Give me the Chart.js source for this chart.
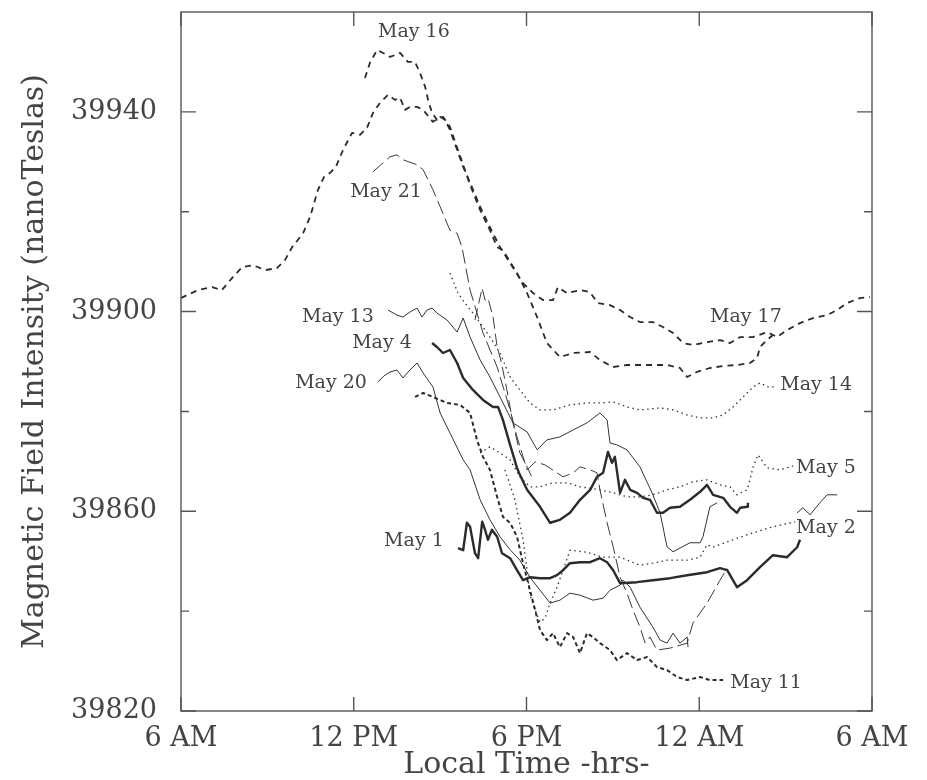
<!DOCTYPE html>
<html>
<head>
<meta charset="utf-8">
<script src="https://cdn.jsdelivr.net/npm/chart.js@4.4.1/dist/chart.umd.min.js"></script>
<style>
  html, body { margin: 0; padding: 0; background: #ffffff; }
  #wrap { width: 927px; height: 780px; position: relative; }
</style>
</head>
<body>
<div id="wrap"><canvas id="c" width="927" height="780"></canvas></div>
<script>
// ---- Axis ticks / labels ----
const xTickHours = [0, 6, 12, 18, 24];
const xTickLabels = ['6 AM', '12 PM', '6 PM', '12 AM', '6 AM'];
const yMajorTicks = [39820, 39860, 39900, 39940];
const yMinorTicks = [39840, 39880, 39920];

// ---- Series (x = hours after 6 AM, y = nanoTeslas) ----
const may17Hours = [0,0.21,0.59,1.08,1.42,1.77,2.12,2.50,2.92,3.33,3.61,3.86,4.24,4.48,4.76,4.97,5.18,5.38,5.63,5.94,6.22,6.46,6.67,6.91,7.19,7.43,7.61,7.78,7.95,8.20,8.41,8.75,9.00,9.17,9.34,9.59,9.80,10.04,10.39,10.73,11.08,11.43,11.88,12.23,12.57,12.92,13.09,13.41,13.86,14.20,14.48,14.90,15.25,15.60,15.94,16.39,16.74,17.09,17.44,17.78,18.27,18.72,19.07,19.42,19.87,20.36,20.70,21.05,21.50,21.95,22.44,22.79,23.13,23.58,23.93];
const may17Field = [39902.7,39903.3,39904.3,39904.9,39904.3,39906.7,39908.9,39909.3,39908.3,39908.7,39910.3,39912.9,39915.7,39918.9,39924.4,39927.0,39927.8,39929.0,39932.4,39935.8,39935.4,39936.8,39939.8,39941.8,39943.4,39942.4,39942.8,39940.4,39941.0,39941.0,39940.4,39938.0,39939.0,39938.4,39936.4,39932.4,39929.0,39925.8,39921.0,39916.9,39912.9,39909.7,39905.7,39903.7,39902.3,39902.3,39904.9,39903.7,39904.3,39903.9,39901.7,39901.3,39900.3,39898.9,39897.9,39897.9,39896.9,39895.7,39893.7,39893.3,39893.9,39894.3,39893.7,39894.9,39894.9,39895.9,39894.9,39896.3,39897.7,39898.7,39899.3,39900.3,39901.7,39902.7,39902.9];

const may16Hours = [6.39,6.56,6.81,7.02,7.26,7.61,7.88,8.13,8.30,8.48,8.58,8.72,8.89,9.10,9.34,9.59,9.80,10.04,10.39,10.73,10.98,11.18,11.67,12.02,12.37,12.71,13.16,13.62,14.21,14.55,15.01,15.49,16.19,16.88,17.33,17.58,17.92,18.37,18.83,19.31,19.76,20.01,20.11,20.35,20.56];
const may16Field = [39946.8,39949.8,39952.4,39951.8,39951.0,39951.8,39950.0,39950.0,39947.8,39945.0,39942.4,39939.8,39938.4,39939.0,39937.0,39932.8,39929.4,39925.4,39920.3,39916.3,39912.9,39912.3,39907.7,39903.7,39898.9,39893.7,39890.9,39891.7,39891.9,39890.3,39888.9,39889.3,39889.3,39889.3,39888.7,39886.9,39887.9,39888.7,39889.1,39889.3,39889.7,39890.7,39892.9,39894.3,39895.3];

const may21Hours = [6.67,7.02,7.26,7.50,7.71,8.20,8.41,8.75,9.00,9.34,9.59,9.76,10.04,10.49,10.98,11.43,11.67,12.02,12.30,12.64,13.27,13.62,13.86,14.21,14.45,14.55,14.80,15.01,15.25,15.49,15.70,15.94,16.12,16.29,16.53,16.99,17.58,17.78,18.27,18.72,18.97];
const may21Field = [39928.0,39929.8,39931.0,39931.4,39930.4,39929.4,39928.4,39924.4,39921.0,39916.3,39915.7,39912.9,39904.3,39895.7,39888.9,39880.3,39874.9,39868.3,39869.9,39869.3,39866.9,39867.7,39868.9,39868.3,39867.7,39864.3,39857.7,39852.9,39846.8,39843.6,39840.2,39836.8,39833.6,39834.8,39832.2,39832.6,39833.6,39837.6,39841.6,39846.2,39848.6];

const extraDashHours = [10.21,10.46,10.56,10.66,10.84,10.98,11.08,11.18,11.32,11.53,11.77,12.02,12.23];
const extraDashField = [39898.3,39904.7,39902.3,39902.7,39898.9,39892.9,39890.9,39888.3,39884.3,39877.7,39871.7,39868.9,39866.3];

const may13Hours = [7.19,7.50,7.71,7.95,8.20,8.37,8.54,8.72,8.89,9.24,9.59,9.80,10.04,10.39,10.73,11.08,11.53,12.02,12.37,12.71,13.16,13.62,14.10,14.55,14.80,14.90,15.14,15.49,15.94,16.36,16.64,16.88,17.09,17.68,18.03,18.13,18.37,18.62];
const may13Field = [39900.3,39899.3,39898.9,39899.9,39900.7,39898.9,39900.3,39900.7,39899.7,39898.3,39895.9,39898.7,39894.9,39890.3,39886.9,39882.9,39877.7,39875.9,39872.3,39874.3,39874.9,39876.3,39877.7,39879.7,39878.3,39873.7,39873.3,39872.3,39868.9,39863.7,39859.7,39852.9,39851.9,39853.7,39853.7,39854.9,39860.9,39861.7];

const may4Hours = [8.72,8.89,9.10,9.34,9.59,9.80,10.14,10.49,10.84,11.01,11.18,11.43,11.67,11.77,12.02,12.47,12.82,13.16,13.51,13.86,14.21,14.45,14.66,14.83,14.97,15.07,15.25,15.42,15.60,15.84,16.05,16.29,16.53,16.74,16.99,17.33,17.68,18.03,18.27,18.48,18.83,19.07,19.31,19.42,19.66,19.69];
const may4Field = [39893.7,39892.9,39891.7,39892.3,39889.7,39886.7,39884.3,39882.3,39880.9,39880.9,39878.3,39873.3,39868.7,39867.3,39864.3,39860.9,39857.7,39858.3,39859.7,39862.3,39864.3,39866.9,39867.7,39871.9,39869.7,39870.9,39863.7,39866.3,39864.3,39863.7,39862.7,39862.3,39859.7,39859.7,39860.7,39860.9,39862.3,39863.9,39865.3,39863.3,39862.7,39860.9,39859.7,39860.7,39860.9,39861.7];

const may20Hours = [6.84,7.05,7.26,7.50,7.71,7.95,8.20,8.41,8.75,9.00,9.34,9.80,10.04,10.39,10.73,11.08,11.43,11.77,12.12,12.47,12.82,13.16,13.51,13.86,14.31,14.66,14.90,15.25,15.35,15.60,15.94,16.39,16.64,16.88,17.09,17.33,17.58,17.61];
const may20Field = [39885.9,39887.1,39887.9,39888.3,39886.7,39888.3,39889.7,39887.7,39884.9,39879.7,39875.7,39870.3,39868.3,39862.3,39858.3,39854.9,39852.3,39850.2,39846.8,39844.2,39841.6,39842.2,39843.6,39843.2,39842.2,39842.6,39844.2,39845.2,39846.2,39844.8,39840.8,39836.8,39834.2,39833.6,39835.6,39833.6,39834.8,39832.8];

const may11Hours = [8.13,8.41,8.75,9.24,9.69,10.04,10.28,10.49,10.73,10.98,11.18,11.43,11.67,11.88,12.12,12.30,12.47,12.71,12.92,13.16,13.41,13.62,13.86,14.10,14.31,14.55,14.90,15.14,15.49,15.84,16.19,16.53,16.88,17.23,17.58,18.03,18.37,18.83];
const may11Field = [39882.9,39883.7,39882.9,39881.7,39881.3,39879.7,39874.3,39870.9,39868.3,39862.9,39858.9,39857.7,39854.9,39849.6,39844.2,39840.2,39836.2,39834.2,39835.6,39832.8,39835.6,39834.8,39831.6,39835.6,39834.8,39833.6,39832.2,39830.2,39831.6,39830.2,39830.8,39828.8,39828.2,39826.8,39826.2,39826.8,39826.2,39826.2];

const may1Hours = [9.62,9.80,9.93,10.04,10.21,10.32,10.46,10.56,10.66,10.80,10.98,11.15,11.43,11.67,11.88,12.12,12.47,12.82,13.06,13.27,13.51,13.86,14.21,14.55,14.80,15.01,15.25,15.84,16.39,16.99,17.58,18.27,18.72,18.97,19.31,19.66,20.11,20.56,21.05,21.40,21.50];
const may1Field = [39852.6,39852.2,39857.7,39856.9,39851.6,39850.6,39857.9,39856.3,39854.3,39856.3,39854.9,39851.6,39850.6,39848.2,39846.2,39846.8,39846.6,39846.6,39847.2,39848.2,39849.6,39849.8,39849.8,39850.6,39849.8,39848.2,39845.6,39845.8,39846.2,39846.6,39847.2,39847.8,39848.6,39848.2,39844.8,39846.2,39848.8,39851.2,39850.8,39852.8,39854.3];

const may14Hours = [9.34,9.62,9.86,10.14,10.49,10.73,11.08,11.43,11.77,12.12,12.47,12.92,13.51,14.10,14.55,15.01,15.49,15.94,16.64,17.09,17.58,18.03,18.48,18.83,19.17,19.42,19.66,19.87,20.11,20.39,20.63];
const may14Field = [39907.7,39903.7,39901.7,39899.7,39896.9,39894.9,39891.7,39886.9,39884.3,39881.7,39880.3,39880.3,39881.3,39881.7,39881.7,39881.9,39880.9,39880.3,39880.7,39880.3,39879.3,39878.7,39878.7,39879.3,39880.9,39882.3,39883.7,39884.9,39885.7,39884.9,39884.9];

const may5Hours = [10.39,10.73,11.08,11.43,11.77,12.12,12.47,12.92,13.41,13.86,14.55,15.01,15.49,15.94,16.39,16.88,17.33,17.78,18.27,18.72,19.07,19.31,19.52,19.66,19.76,19.87,20.04,20.36,20.81,21.26];
const may5Field = [39871.7,39872.9,39871.7,39870.3,39866.9,39864.9,39864.9,39865.7,39865.7,39864.9,39864.3,39863.7,39862.9,39862.9,39863.3,39864.3,39864.9,39865.9,39866.3,39865.3,39864.9,39863.3,39863.9,39864.3,39866.3,39868.9,39871.3,39868.7,39868.3,39869.1];

const may2Hours = [11.25,11.60,11.88,12.02,12.12,12.30,12.47,12.64,12.82,13.06,13.27,13.51,14.10,14.66,15.25,15.94,16.39,16.88,17.58,18.03,18.27,18.48,19.17,19.87,20.56,21.33];
const may2Field = [39868.3,39862.3,39854.3,39848.2,39843.2,39840.2,39837.8,39838.6,39841.6,39844.8,39848.2,39852.2,39851.8,39850.8,39850.8,39849.2,39849.6,39850.2,39850.2,39850.8,39853.3,39852.8,39854.3,39855.7,39856.9,39857.9];

const extraSolidHours = [21.40,21.60,21.85,22.19,22.44,22.79];
const extraSolidField = [39859.7,39860.7,39859.3,39861.7,39863.3,39863.3];

// ---- Curve labels (anchored in data coordinates) ----
const labelNames  = ['May 16','May 21','May 13','May 4','May 20','May 1','May 17','May 14','May 5','May 2','May 11'];
const labelHours  = [8.09, 7.12, 5.45, 6.98, 5.21, 8.09, 19.62, 22.06, 22.40, 22.40, 20.32];
const labelValues = [39956.0, 39924.0, 39898.9, 39893.7, 39885.7, 39854.1, 39898.9, 39885.3, 39868.7, 39856.7, 39825.6];

// ---- build datasets ----
function pts(xs, ys) { return xs.map((x, i) => ({ x: x, y: ys[i] })); }
const INK = '#2b2b2b';
function ds(name, xs, ys, width, dash, color) {
  return { label: name, data: pts(xs, ys), borderColor: color || INK, borderWidth: width,
           borderDash: dash, pointRadius: 0, fill: false, tension: 0, borderJoinStyle: 'round', borderCapStyle: 'butt' };
}
const datasets = [
  ds('May 17', may17Hours, may17Field, 1.8, [6, 5]),
  ds('May 16', may16Hours, may16Field, 1.8, [6, 5]),
  ds('May 21', may21Hours, may21Field, 1.0, [14, 5], '#3a3a3a'),
  ds('extra dashed', extraDashHours, extraDashField, 1.0, [12, 5], '#3a3a3a'),
  ds('May 13', may13Hours, may13Field, 1.0, [], '#333'),
  ds('May 4', may4Hours, may4Field, 2.4, []),
  ds('May 20', may20Hours, may20Field, 1.0, [], '#333'),
  ds('May 11', may11Hours, may11Field, 2.0, [4, 3]),
  ds('May 1', may1Hours, may1Field, 2.4, []),
  ds('May 14', may14Hours, may14Field, 1.3, [1.5, 3.5], '#333'),
  ds('May 5', may5Hours, may5Field, 1.3, [1.5, 3.5], '#333'),
  ds('May 2', may2Hours, may2Field, 1.3, [1.5, 3.5], '#333'),
  ds('extra solid', extraSolidHours, extraSolidField, 1.0, [], '#333')
];

const FONT = 'DejaVu Serif';
const TEXT = '#444';

const framePlugin = {
  id: 'frame',
  afterDatasetsDraw(chart) {
    const { ctx, chartArea: a, scales: { x, y } } = chart;
    ctx.save();
    ctx.strokeStyle = '#555';
    ctx.lineWidth = 1.4;
    ctx.setLineDash([]);
    ctx.strokeRect(a.left, a.top, a.right - a.left, a.bottom - a.top);
    ctx.beginPath();
    yMajorTicks.forEach(v => {
      const p = y.getPixelForValue(v);
      ctx.moveTo(a.left, p); ctx.lineTo(a.left + 15, p);
      ctx.moveTo(a.right, p); ctx.lineTo(a.right - 15, p);
    });
    yMinorTicks.forEach(v => {
      const p = y.getPixelForValue(v);
      ctx.moveTo(a.left, p); ctx.lineTo(a.left + 8, p);
      ctx.moveTo(a.right, p); ctx.lineTo(a.right - 8, p);
    });
    xTickHours.forEach(h => {
      const p = x.getPixelForValue(h);
      ctx.moveTo(p, a.bottom); ctx.lineTo(p, a.bottom - 14);
      ctx.moveTo(p, a.top); ctx.lineTo(p, a.top + 14);
    });
    ctx.stroke();
    // curve labels
    ctx.fillStyle = TEXT;
    ctx.font = '19px "' + FONT + '"';
    ctx.textAlign = 'center';
    ctx.textBaseline = 'middle';
    labelNames.forEach((t, i) => {
      ctx.fillText(t, x.getPixelForValue(labelHours[i]), y.getPixelForValue(labelValues[i]));
    });
    ctx.restore();
  }
};

new Chart(document.getElementById('c'), {
  type: 'line',
  data: { datasets: datasets },
  plugins: [framePlugin],
  options: {
    responsive: false,
    animation: false,
    events: [],
    layout: { padding: { top: 12, right: 55, left: 0, bottom: 0 } },
    plugins: { legend: { display: false }, tooltip: { enabled: false } },
    scales: {
      x: {
        type: 'linear', min: 0, max: 24,
        afterBuildTicks: (s) => { s.ticks = xTickHours.map(v => ({ value: v })); },
        afterFit: (s) => { s.height = 69; s.paddingLeft = 0; s.paddingRight = 0; },
        grid: { display: false, drawTicks: false },
        border: { display: false },
        ticks: {
          padding: 12, color: TEXT, maxRotation: 0, autoSkip: false,
          font: { family: FONT, size: 27 },
          callback: (v) => { const i = xTickHours.indexOf(v); return i >= 0 ? xTickLabels[i] : ''; }
        },
        title: { display: true, text: 'Local Time -hrs-', color: TEXT, font: { family: FONT, size: 30, lineHeight: 1.0 }, padding: { top: 0, bottom: 0 } }
      },
      y: {
        type: 'linear', min: 39820, max: 39960,
        afterBuildTicks: (s) => { s.ticks = yMajorTicks.map(v => ({ value: v })); },
        afterFit: (s) => { s.width = 181; s.paddingTop = 0; s.paddingBottom = 0; },
        grid: { display: false, drawTicks: false },
        border: { display: false },
        ticks: { padding: 24, color: TEXT, font: { family: FONT, size: 27 } , callback: (v) => String(v) },
        title: { display: true, text: 'Magnetic Field Intensity (nanoTeslas)', color: TEXT, font: { family: FONT, size: 30, lineHeight: 1.0 }, padding: { top: 20, bottom: 0 } }
      }
    }
  }
});
</script>
</body>
</html>
